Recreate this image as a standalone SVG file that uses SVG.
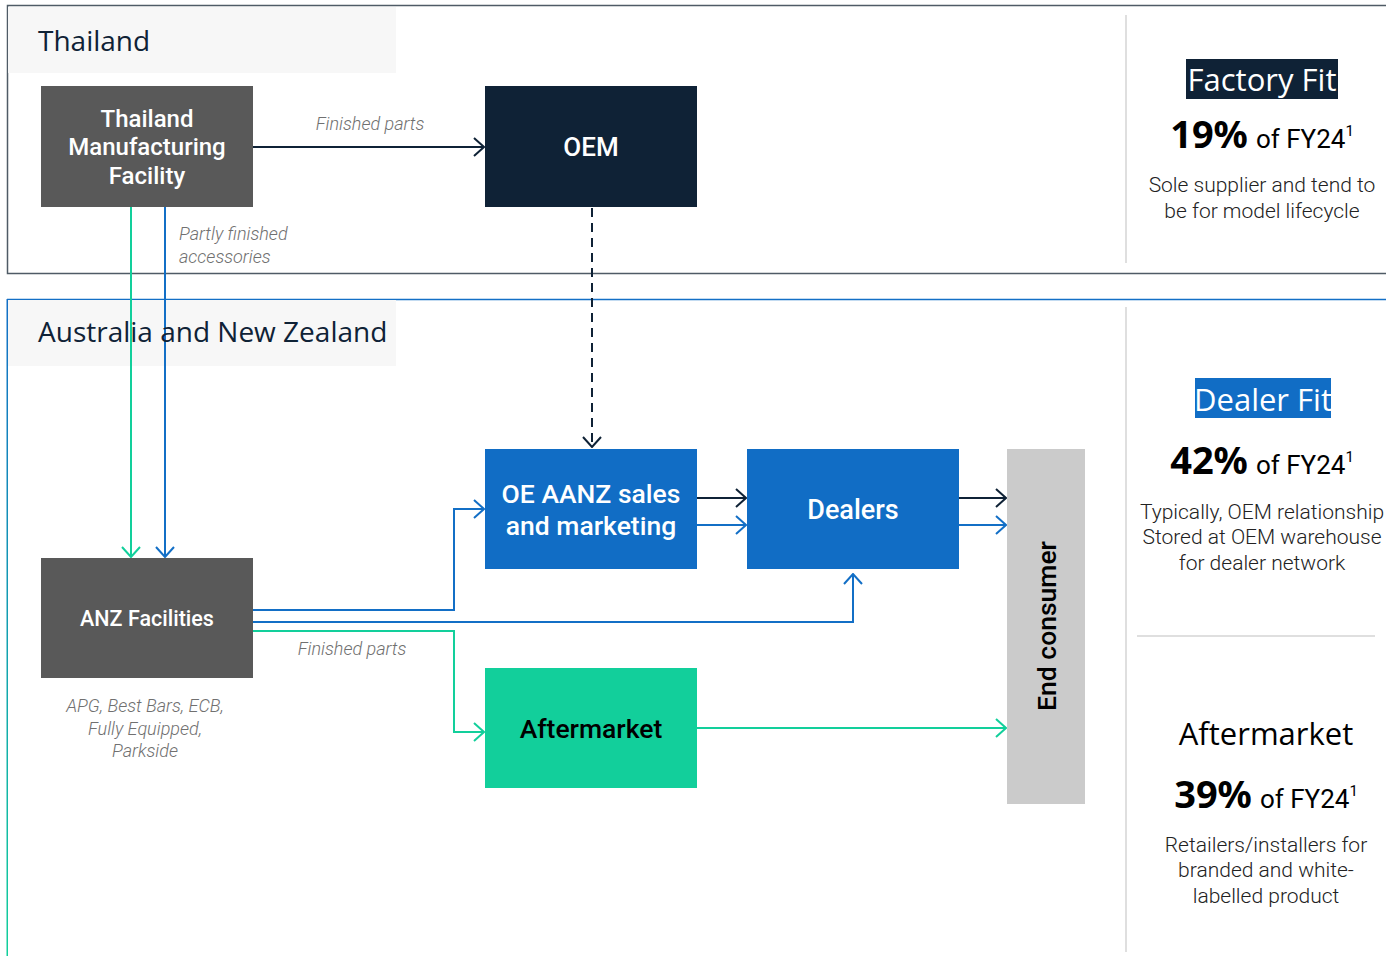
<svg xmlns="http://www.w3.org/2000/svg" width="1386" height="956" viewBox="0 0 1386 956">
<defs>
<style>
.hdr{font-family:"Open Sans","Noto Sans",sans-serif;font-size:28px;fill:#0f2236}
.node{font-family:Roboto,"Liberation Sans",sans-serif;font-weight:500;fill:#fff;text-anchor:middle}
.lbl{font-family:Roboto,"Liberation Sans",sans-serif;font-style:italic;font-weight:300;font-size:18px;fill:#707070}
.big{font-family:"Open Sans","Noto Sans",sans-serif;font-size:31px;text-anchor:middle}
.pct{font-family:"Noto Sans","Open Sans",sans-serif;text-anchor:middle;fill:#000}
.body{font-family:Roboto,"Liberation Sans",sans-serif;font-size:21px;fill:#222;text-anchor:middle;font-weight:300}
.c{fill:none;stroke-width:2}
</style>
<linearGradient id="lg" x1="0" y1="0" x2="0" y2="1">
<stop offset="0" stop-color="#136fc6"/>
<stop offset="1" stop-color="#12cf9b"/>
</linearGradient>
<marker id="an" viewBox="0 0 12 20" refX="11" refY="10" markerWidth="12" markerHeight="20" markerUnits="userSpaceOnUse" orient="auto"><path d="M1,1 L11,10 L1,19" fill="none" stroke="#0f2236" stroke-width="2"/></marker>
<marker id="ab" viewBox="0 0 12 20" refX="11" refY="10" markerWidth="12" markerHeight="20" markerUnits="userSpaceOnUse" orient="auto"><path d="M1,1 L11,10 L1,19" fill="none" stroke="#136fc6" stroke-width="2"/></marker>
<marker id="ag" viewBox="0 0 12 20" refX="11" refY="10" markerWidth="12" markerHeight="20" markerUnits="userSpaceOnUse" orient="auto"><path d="M1,1 L11,10 L1,19" fill="none" stroke="#12cf9b" stroke-width="2"/></marker>
</defs>
<rect width="1386" height="956" fill="#fff"/>

<g id="frame-thailand">
<path d="M1390,5.5 H7.5 V273.5 H1390" fill="none" stroke="#4f5b66" stroke-width="1.5"/>
<rect x="8" y="7" width="388" height="66" fill="#f7f7f7"/>
<text class="hdr" x="38" y="51">Thailand</text>
</g>

<g id="frame-anz">
<line x1="7" y1="299.5" x2="1390" y2="299.5" stroke="#136fc6" stroke-width="1.5"/>
<rect x="6.5" y="299" width="1.5" height="657" fill="url(#lg)"/>
<rect x="8" y="300" width="388" height="66" fill="#f7f7f7"/>
</g>

<g id="connectors">
<line class="c" x1="253" y1="147" x2="484" y2="147" stroke="#0f2236" marker-end="url(#an)"/>
<line class="c" x1="592" y1="208" x2="592" y2="447" stroke="#0f2236" stroke-dasharray="9,6" marker-end="url(#an)"/>
<line class="c" x1="131" y1="207" x2="131" y2="557" stroke="#12cf9b" marker-end="url(#ag)"/>
<line class="c" x1="165" y1="207" x2="165" y2="557" stroke="#136fc6" marker-end="url(#ab)"/>
<polyline class="c" points="253,610 454,610 454,509 484,509" stroke="#136fc6" marker-end="url(#ab)"/>
<polyline class="c" points="253,622 853,622 853,574" stroke="#136fc6" marker-end="url(#ab)"/>
<polyline class="c" points="253,631 454,631 454,732 484,732" stroke="#12cf9b" marker-end="url(#ag)"/>
<line class="c" x1="697" y1="498" x2="746" y2="498" stroke="#0f2236" marker-end="url(#an)"/>
<line class="c" x1="697" y1="525" x2="746" y2="525" stroke="#136fc6" marker-end="url(#ab)"/>
<line class="c" x1="959" y1="498" x2="1006" y2="498" stroke="#0f2236" marker-end="url(#an)"/>
<line class="c" x1="959" y1="525" x2="1006" y2="525" stroke="#136fc6" marker-end="url(#ab)"/>
<line class="c" x1="697" y1="728" x2="1006" y2="728" stroke="#12cf9b" marker-end="url(#ag)"/>
<text class="lbl" x="370" y="130" text-anchor="middle">Finished parts</text>
<text class="lbl" x="179" y="240">Partly finished</text>
<text class="lbl" x="179" y="263">accessories</text>
<text class="lbl" x="352" y="655" text-anchor="middle">Finished parts</text>
</g>

<text class="hdr" x="38" y="342">Australia and New Zealand</text>

<g id="node-tmf">
<rect x="41" y="86" width="212" height="121" fill="#595959"/>
<text class="node" font-size="24" x="147" y="127">Thailand</text>
<text class="node" font-size="24" x="147" y="155">Manufacturing</text>
<text class="node" font-size="24" x="147" y="184">Facility</text>
</g>

<g id="node-oem">
<rect x="485" y="86" width="212" height="121" fill="#0f2236"/>
<text class="node" font-size="26" x="591" y="156">OEM</text>
</g>

<g id="node-anz">
<rect x="41" y="558" width="212" height="120" fill="#595959"/>
<text class="node" font-size="21.5" x="147" y="626">ANZ Facilities</text>
<text class="lbl" x="145" y="712" text-anchor="middle">APG, Best Bars, ECB,</text>
<text class="lbl" x="145" y="735" text-anchor="middle">Fully Equipped,</text>
<text class="lbl" x="145" y="757" text-anchor="middle">Parkside</text>
</g>

<g id="node-oeaanz">
<rect x="485" y="449" width="212" height="120" fill="#116dc5"/>
<text class="node" font-size="26.5" x="591" y="503">OE AANZ sales</text>
<text class="node" font-size="26.5" x="591" y="535">and marketing</text>
</g>

<g id="node-dealers">
<rect x="747" y="449" width="212" height="120" fill="#116dc5"/>
<text class="node" font-size="27" x="853" y="519">Dealers</text>
</g>

<g id="node-aftermarket">
<rect x="485" y="668" width="212" height="120" fill="#12cf9b"/>
<text class="node" font-size="26.5" x="591" y="738" style="fill:#000">Aftermarket</text>
</g>

<g id="node-endconsumer">
<rect x="1007" y="449" width="78" height="355" fill="#cbcbcb"/>
<text class="node" font-size="26.5" transform="translate(1056,626) rotate(-90)" style="fill:#000">End consumer</text>
</g>

<g id="panel-right">
<line x1="1126" y1="15" x2="1126" y2="263" stroke="#d4d4d4" stroke-width="1.5"/>
<line x1="1126" y1="307" x2="1126" y2="952" stroke="#d4d4d4" stroke-width="1.5"/>
<line x1="1137" y1="636" x2="1375" y2="636" stroke="#d4d4d4" stroke-width="1.5"/>

<rect x="1186" y="59" width="152" height="40" fill="#0f2236"/>
<text class="big" x="1262" y="91" fill="#fff">Factory Fit</text>
<text class="pct" x="1262" y="148"><tspan font-size="38" font-weight="bold">19%</tspan><tspan font-size="26" font-family="Roboto,sans-serif" dx="8">of FY24</tspan><tspan font-size="15" font-family="Roboto,sans-serif" dy="-12">1</tspan></text>
<text class="body" x="1262" y="192">Sole supplier and tend to</text>
<text class="body" x="1262" y="218">be for model lifecycle</text>

<rect x="1195" y="378" width="136" height="40" fill="#116dc5"/>
<text class="big" x="1263" y="411" fill="#fff">Dealer Fit</text>
<text class="pct" x="1262" y="474"><tspan font-size="38" font-weight="bold">42%</tspan><tspan font-size="26" font-family="Roboto,sans-serif" dx="8">of FY24</tspan><tspan font-size="15" font-family="Roboto,sans-serif" dy="-12">1</tspan></text>
<text class="body" x="1262" y="519">Typically, OEM relationship</text>
<text class="body" x="1262" y="544">Stored at OEM warehouse</text>
<text class="body" x="1262" y="570">for dealer network</text>

<text class="big" x="1266" y="745" fill="#000">Aftermarket</text>
<text class="pct" x="1266" y="808"><tspan font-size="38" font-weight="bold">39%</tspan><tspan font-size="26" font-family="Roboto,sans-serif" dx="8">of FY24</tspan><tspan font-size="15" font-family="Roboto,sans-serif" dy="-12">1</tspan></text>
<text class="body" x="1266" y="852">Retailers/installers for</text>
<text class="body" x="1266" y="877">branded and white-</text>
<text class="body" x="1266" y="903">labelled product</text>
</g>
</svg>
